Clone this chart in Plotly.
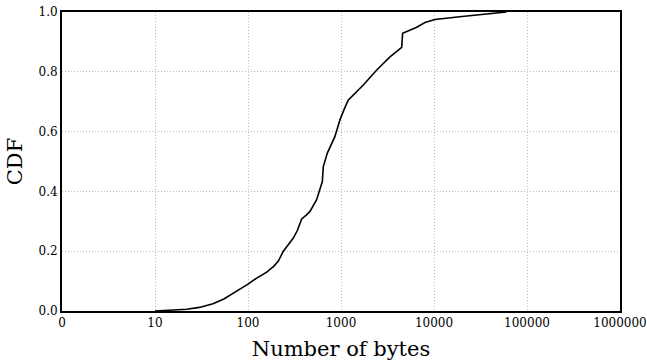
import plotly.graph_objects as go

# CDF of message sizes
bytes_x = [10, 15, 22, 30, 42, 55, 70, 85, 100, 124, 159, 190, 212, 240, 270, 307,
           340, 362, 378, 420, 464, 547, 585, 630, 645, 713, 861, 976, 1100, 1200,
           1738, 2421, 3365, 4495, 4600, 6518, 8000, 10233, 20000, 35000, 50000, 60000]
cdf_y = [0.0, 0.003, 0.006, 0.012, 0.024, 0.04, 0.06, 0.075, 0.09, 0.11, 0.13, 0.15,
         0.167, 0.2, 0.22, 0.244, 0.27, 0.29, 0.308, 0.32, 0.333, 0.372, 0.4, 0.433,
         0.483, 0.528, 0.584, 0.64, 0.68, 0.706, 0.756, 0.806, 0.85, 0.882, 0.929,
         0.949, 0.965, 0.975, 0.985, 0.992, 0.997, 1.0]

x_tickvals = [1, 10, 100, 1000, 10000, 100000, 1000000]
x_ticktext = ["0", "10", "100", "1000", "10000", "100000", "1000000"]
y_tickvals = [0.0, 0.2, 0.4, 0.6, 0.8, 1.0]

fig = go.Figure()
fig.add_trace(go.Scatter(x=bytes_x, y=cdf_y, mode="lines",
                         line=dict(color="black", width=1.6), showlegend=False,
                         cliponaxis=False))

tick_font = dict(family="DejaVu Serif", size=12, color="black")
title_font = dict(family="DejaVu Serif", size=21, color="black")

fig.update_layout(
    width=647, height=362,
    margin=dict(l=62, r=27, t=12, b=51, autoexpand=False),
    paper_bgcolor="white", plot_bgcolor="white",
    xaxis=dict(type="log", range=[0, 6], tickvals=x_tickvals, ticktext=x_ticktext,
               showgrid=True, gridcolor="#bdbdbd", griddash="1px,2px", gridwidth=1,
               showline=True, linecolor="black", linewidth=2, mirror=True,
               ticks="", tickfont=tick_font, zeroline=False, automargin=False,
               title=dict(text="Number of bytes", font=title_font, standoff=12)),
    yaxis=dict(range=[0, 1], tickvals=y_tickvals, tickformat=".1f",
               showgrid=True, gridcolor="#bdbdbd", griddash="1px,2px", gridwidth=1,
               showline=True, linecolor="black", linewidth=2, mirror=True,
               ticks="", tickfont=tick_font, zeroline=False, automargin=False,
               title=dict(text="CDF", font=title_font, standoff=10)),
)

fig.write_html("out.html")
